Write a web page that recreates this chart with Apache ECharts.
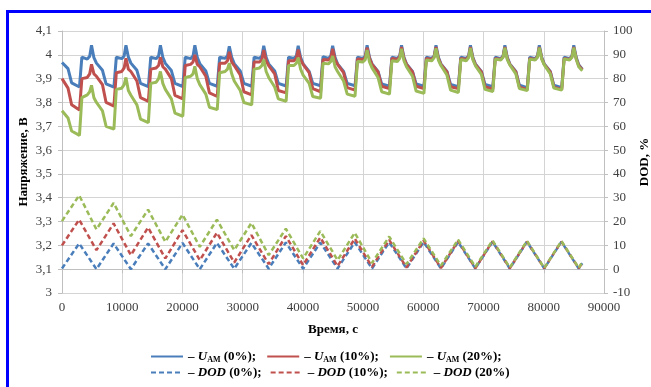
<!DOCTYPE html>
<html>
<head>
<meta charset="utf-8">
<script src="https://cdn.jsdelivr.net/npm/echarts@6/dist/echarts.min.js"></script>
<style>
html, body { margin: 0; padding: 0; background: #fff; }
#chart { width: 651px; height: 387px; }
</style>
</head>
<body>
<div id="chart"></div>
<script>
// time points, s
var tU = [
	0, 1000, 1600, 2900, 3300, 4200, 4600, 4900, 5300,
	5720, 6720, 7320, 8620, 9020, 9920, 10320, 10620, 11020,
	11440, 12440, 13040, 14340, 14740, 15640, 16040, 16340, 16740,
	17160, 18160, 18760, 20060, 20460, 21360, 21760, 22060, 22460,
	22880, 23880, 24480, 25780, 26180, 27080, 27480, 27780, 28180,
	28600, 29600, 30200, 31500, 31900, 32800, 33200, 33500, 33900,
	34320, 35320, 35920, 37220, 37620, 38520, 38920, 39220, 39620,
	40040, 41040, 41640, 42940, 43340, 44240, 44640, 44940, 45340,
	45760, 46760, 47360, 48660, 49060, 49960, 50360, 50660, 51060,
	51480, 52480, 53080, 54380, 54780, 55680, 56080, 56380, 56780,
	57200, 58200, 58800, 60100, 60500, 61400, 61800, 62100, 62500,
	62920, 63920, 64520, 65820, 66220, 67120, 67520, 67820, 68220,
	68640, 69640, 70240, 71540, 71940, 72840, 73240, 73540, 73940,
	74360, 75360, 75960, 77260, 77660, 78560, 78960, 79260, 79660,
	80080, 81080, 81680, 82980, 83380, 84280, 84680, 84980, 85380,
	85800, 86400
];

// U_AM (0%)
var uAM0 = [
	3.968, 3.942, 3.882, 3.865, 3.99, 3.982, 3.994, 4.04, 3.988,
	3.965, 3.935, 3.878, 3.864, 3.99, 3.984, 3.995, 4.04, 3.99,
	3.965, 3.935, 3.88, 3.866, 3.99, 3.984, 3.995, 4.04, 3.99,
	3.964, 3.934, 3.88, 3.867, 3.99, 3.984, 3.995, 4.04, 3.99,
	3.963, 3.932, 3.88, 3.868, 3.99, 3.985, 3.995, 4.036, 3.99,
	3.963, 3.932, 3.88, 3.868, 3.99, 3.985, 3.995, 4.038, 3.99,
	3.962, 3.932, 3.88, 3.869, 3.99, 3.985, 3.995, 4.038, 3.99,
	3.962, 3.93, 3.88, 3.87, 3.992, 3.985, 3.996, 4.038, 3.99,
	3.962, 3.93, 3.88, 3.87, 3.99, 3.985, 3.996, 4.04, 3.99,
	3.962, 3.93, 3.878, 3.868, 3.99, 3.985, 3.995, 4.04, 3.99,
	3.962, 3.93, 3.878, 3.868, 3.99, 3.985, 3.995, 4.04, 3.99,
	3.962, 3.93, 3.876, 3.866, 3.99, 3.985, 3.995, 4.04, 3.99,
	3.962, 3.93, 3.876, 3.866, 3.99, 3.984, 3.995, 4.04, 3.99,
	3.962, 3.93, 3.872, 3.862, 3.99, 3.984, 3.995, 4.04, 3.99,
	3.962, 3.93, 3.872, 3.862, 3.99, 3.984, 3.995, 4.04, 3.99,
	3.958, 3.94
];

// U_AM (10%)
var uAM10 = [
	3.90, 3.86, 3.79, 3.768, 3.90, 3.905, 3.92, 3.96, 3.92,
	3.91, 3.875, 3.80, 3.785, 3.925, 3.93, 3.945, 3.985, 3.94,
	3.93, 3.89, 3.82, 3.805, 3.94, 3.945, 3.955, 3.99, 3.95,
	3.94, 3.90, 3.83, 3.815, 3.955, 3.96, 3.97, 4.0, 3.96,
	3.95, 3.91, 3.84, 3.825, 3.965, 3.965, 3.975, 4.013, 3.97,
	3.955, 3.915, 3.845, 3.832, 3.97, 3.97, 3.98, 4.02, 3.975,
	3.955, 3.92, 3.85, 3.84, 3.975, 3.975, 3.985, 4.022, 3.98,
	3.96, 3.925, 3.858, 3.845, 3.98, 3.978, 3.988, 4.025, 3.98,
	3.96, 3.925, 3.862, 3.852, 3.982, 3.98, 3.99, 4.03, 3.985,
	3.96, 3.928, 3.868, 3.858, 3.985, 3.98, 3.992, 4.033, 3.985,
	3.96, 3.928, 3.868, 3.858, 3.985, 3.98, 3.992, 4.033, 3.985,
	3.96, 3.928, 3.866, 3.858, 3.985, 3.98, 3.992, 4.033, 3.985,
	3.96, 3.928, 3.866, 3.856, 3.985, 3.98, 3.992, 4.033, 3.985,
	3.96, 3.928, 3.864, 3.855, 3.985, 3.98, 3.992, 4.033, 3.985,
	3.96, 3.928, 3.864, 3.855, 3.985, 3.98, 3.992, 4.033, 3.985,
	3.955, 3.937
];

// U_AM (20%)
var uAM20 = [
	3.765, 3.735, 3.68, 3.662, 3.82, 3.832, 3.845, 3.872, 3.82,
	3.80, 3.765, 3.70, 3.688, 3.855, 3.86, 3.875, 3.905, 3.85,
	3.83, 3.79, 3.73, 3.715, 3.88, 3.885, 3.90, 3.93, 3.88,
	3.855, 3.815, 3.755, 3.742, 3.905, 3.91, 3.92, 3.952, 3.90,
	3.875, 3.835, 3.78, 3.77, 3.925, 3.93, 3.94, 3.965, 3.92,
	3.89, 3.85, 3.80, 3.79, 3.94, 3.945, 3.955, 3.98, 3.93,
	3.905, 3.865, 3.815, 3.805, 3.955, 3.955, 3.965, 3.988, 3.94,
	3.915, 3.88, 3.825, 3.818, 3.965, 3.962, 3.972, 3.995, 3.95,
	3.93, 3.89, 3.835, 3.826, 3.972, 3.97, 3.98, 4.02, 3.97,
	3.945, 3.905, 3.845, 3.835, 3.975, 3.972, 3.985, 4.025, 3.975,
	3.95, 3.91, 3.848, 3.838, 3.978, 3.975, 3.988, 4.027, 3.978,
	3.955, 3.915, 3.852, 3.842, 3.98, 3.975, 3.988, 4.028, 3.98,
	3.955, 3.918, 3.855, 3.846, 3.982, 3.978, 3.99, 4.03, 3.98,
	3.958, 3.92, 3.858, 3.85, 3.982, 3.978, 3.99, 4.03, 3.982,
	3.958, 3.92, 3.86, 3.852, 3.983, 3.978, 3.99, 4.03, 3.982,
	3.95, 3.933
];

// DOD turning points, s
var tD = [
	0, 2850, 5720, 8570, 11440, 14290, 17160, 20010, 22880, 25730,
	28600, 31450, 34320, 37170, 40040, 42890, 45760, 48610, 51480, 54330,
	57200, 60050, 62920, 65770, 68640, 71490, 74360, 77210, 80080, 82930,
	85800, 86400
];
var dod0 = [
	0.3, 10.8, 0, 10.8, 0, 10.8, 0, 11, 0, 11,
	0.2, 11, 0.2, 11.2, 0.2, 11.2, 0.3, 11.3, 0.3, 11.3,
	0.3, 11.4, 0.3, 11.4, 0.3, 11.5, 0.3, 11.5, 0.3, 11.5,
	0.3, 2.5
];
var dod10 = [
	10, 20.8, 8.0, 19.2, 5.9, 17.5, 4.5, 16.4, 3.8, 15.3,
	2.8, 14.3, 2.1, 13.9, 1.7, 13.3, 1.3, 12.8, 1.0, 12.3,
	0.7, 12.0, 0.5, 11.8, 0.4, 11.7, 0.4, 11.6, 0.4, 11.6,
	0.4, 2.6
];
var dod20 = [
	20.2, 31.0, 16.7, 27.8, 13.9, 25.0, 11.5, 22.9, 9.4, 20.8,
	8.0, 19.4, 5.9, 17.0, 4.5, 16.0, 3.8, 15.3, 2.6, 13.7,
	2.1, 12.9, 1.5, 12.4, 1.0, 12.1, 0.7, 11.9, 0.5, 11.8,
	0.5, 3.0
];

var xTicks = { min: 0, max: 90000, interval: 10000 };
var uTicks = { min: 3, max: 4.1, interval: 0.1 };
var dTicks = { min: -10, max: 100, interval: 10 };

var blue = '#4a7ebb', red = '#c0504d', green = '#9bbb59';
var serif = '"Liberation Serif", "Times New Roman", serif';

function pairs(t, v) {
	var out = [];
	for (var i = 0; i < t.length; i++) out.push([t[i], v[i]]);
	return out;
}

function uSeries(name, color, vals) {
	return {
		name: name, type: 'line', yAxisIndex: 0, symbol: 'none',
		data: pairs(tU, vals),
		lineStyle: { color: color, width: 3 },
		itemStyle: { color: color }
	};
}
function dSeries(name, color, vals) {
	return {
		name: name, type: 'line', yAxisIndex: 1, symbol: 'none',
		data: pairs(tD, vals),
		lineStyle: { color: color, width: 2.5, type: [5, 3] },
		itemStyle: { color: color }
	};
}

function legendFmt(name) {
	var m = name.match(/^(U|DOD) (\(\d+%\))(;?)$/);
	var head = m[1] == 'U' ? '{i|U}{s|АМ}' : '{i|DOD}';
	return '{t|– }' + head + '{t| ' + m[2] + m[3] + '}';
}
var legendRich = {
	t: { fontFamily: serif, fontWeight: 'bold', fontSize: 13, color: '#000' },
	i: { fontFamily: serif, fontWeight: 'bold', fontStyle: 'italic', fontSize: 13, color: '#000' },
	s: { fontFamily: serif, fontWeight: 'bold', fontSize: 8, color: '#000', padding: [6, 0, 0, 0] }
};

var chart = echarts.init(document.getElementById('chart'));
chart.setOption({
	backgroundColor: '#fff',
	animation: false,
	graphic: [{
		type: 'rect',
		shape: { x: 7.5, y: 11.5, width: 800, height: 500 },
		style: { fill: 'none', stroke: '#0000ff', lineWidth: 3 },
		silent: true
	}],
	grid: { left: 62, right: 47, top: 31, bottom: 94, outerBoundsMode: 'none', containLabel: false },
	legend: [{
		data: ['U (0%);', 'U (10%);', 'U (20%);'],
		left: 145, top: 345, itemWidth: 32, itemHeight: 10, itemGap: 10,
		itemStyle: { opacity: 0 },
		formatter: legendFmt, textStyle: { rich: legendRich }
	}, {
		data: ['DOD (0%);', 'DOD (10%);', 'DOD (20%)'],
		left: 145, top: 361, itemWidth: 32, itemHeight: 10, itemGap: 8,
		itemStyle: { opacity: 0 },
		formatter: legendFmt, textStyle: { rich: legendRich }
	}],
	xAxis: {
		type: 'value', min: xTicks.min, max: xTicks.max, interval: xTicks.interval,
		name: 'Время, с', nameLocation: 'middle', nameGap: 30,
		nameTextStyle: { fontFamily: serif, fontWeight: 'bold', fontSize: 13, color: '#000' },
		axisLine: { show: true, lineStyle: { color: '#bfbfbf' } },
		axisTick: { show: true, length: 4, lineStyle: { color: '#bfbfbf' } },
		axisLabel: {
			fontFamily: serif, fontSize: 13, color: '#404040', margin: 8,
			formatter: function(v) { return String(v); }
		},
		splitLine: { show: true, lineStyle: { color: '#d4d4d4' } }
	},
	yAxis: [{
		type: 'value', min: uTicks.min, max: uTicks.max, interval: uTicks.interval,
		name: 'Напряжение, В', nameLocation: 'middle', nameGap: 32, nameRotate: 90,
		nameMoveOverlap: false,
		nameTextStyle: { fontFamily: serif, fontWeight: 'bold', fontSize: 13, color: '#000' },
		axisLine: { show: true, lineStyle: { color: '#bfbfbf' } },
		axisTick: { show: true, length: 4, lineStyle: { color: '#bfbfbf' } },
		axisLabel: {
			fontFamily: serif, fontSize: 13, color: '#404040', margin: 10,
			formatter: function(v) { return String(Math.round(v * 10) / 10).replace('.', ','); }
		},
		splitLine: { show: true, lineStyle: { color: '#d4d4d4' } }
	}, {
		type: 'value', min: dTicks.min, max: dTicks.max, interval: dTicks.interval,
		position: 'right',
		name: 'DOD, %', nameLocation: 'middle', nameGap: 34, nameRotate: 90,
		nameMoveOverlap: false,
		nameTextStyle: { fontFamily: serif, fontWeight: 'bold', fontSize: 13, color: '#000' },
		axisLine: { show: true, lineStyle: { color: '#bfbfbf' } },
		axisTick: { show: true, length: 4, lineStyle: { color: '#bfbfbf' } },
		axisLabel: { fontFamily: serif, fontSize: 13, color: '#404040', margin: 9 },
		splitLine: { show: false }
	}],
	series: [
		uSeries('U (0%);', blue, uAM0),
		uSeries('U (10%);', red, uAM10),
		uSeries('U (20%);', green, uAM20),
		dSeries('DOD (0%);', blue, dod0),
		dSeries('DOD (10%);', red, dod10),
		dSeries('DOD (20%)', green, dod20)
	]
});
</script>
</body>
</html>
